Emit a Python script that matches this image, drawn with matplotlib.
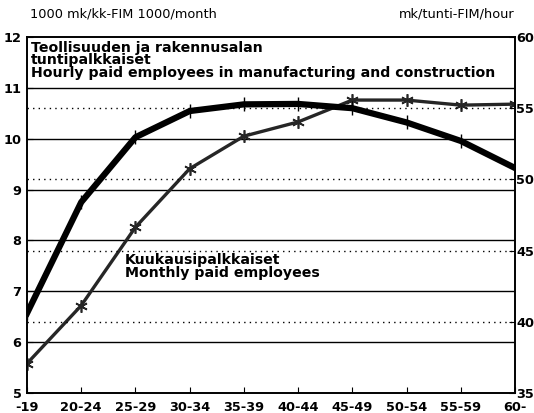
import matplotlib
matplotlib.use('agg')
import matplotlib.pyplot as plt

plt.rcParams['font.family'] = ['DejaVu Sans']

age_groups = ['-19', '20-24', '25-29', '30-34', '35-39', '40-44', '45-49', '50-54', '55-59', '60-']
# hourly paid, mk/hour (right axis)
hourly = [40.6, 48.4, 52.96, 54.8, 55.27, 55.3, 55.0, 54.0, 52.7, 50.8]
# monthly paid, 1000 mk/month (left axis)
monthly = [5.58, 6.72, 8.26, 9.41, 10.05, 10.33, 10.76, 10.76, 10.66, 10.68]

left_ticks = [5, 6, 7, 8, 9, 10, 11, 12]
right_ticks = [35, 40, 45, 50, 55, 60]

fig = plt.figure(figsize=(5.34, 4.13), dpi=100)
ax = fig.add_axes([27/534, 20/413, 488/534, 356/413])
ax2 = ax.twinx()

x = list(range(len(age_groups)))
ax.set_xlim(0, len(age_groups) - 1)
ax.set_ylim(5, 12)
ax2.set_ylim(35, 60)

for v in left_ticks[1:-1]:
    ax.axhline(v, color='black', lw=1.0, zorder=1)
for v in right_ticks[1:-1]:
    ax2.axhline(v, color='black', lw=1.0, ls=(0, (1, 3)), zorder=1)

ax.plot(x, monthly, color='0.15', lw=2.4, marker=(6, 2, 0), ms=9, mew=1.2, zorder=3)
ax2.plot(x, hourly, color='black', lw=4.5, marker='|', ms=10, mew=1.0, zorder=4)

tick_font = dict(fontsize=9.3, fontweight='bold')
ax.set_xticks(x)
ax.set_xticklabels(age_groups, **tick_font)
ax.set_yticks(left_ticks)
ax.set_yticklabels([str(t) for t in left_ticks], **tick_font)
ax2.set_yticks(right_ticks)
ax2.set_yticklabels([str(t) for t in right_ticks], **tick_font)
ax.tick_params(axis='x', direction='in', length=4, pad=6)
ax.tick_params(axis='y', direction='in', length=4, pad=4)
ax2.tick_params(axis='y', direction='in', length=4, pad=1)

for a in (ax, ax2):
    for s in a.spines.values():
        s.set_linewidth(1.2)

ax.text(0.08, 11.93, 'Teollisuuden ja rakennusalan\ntuntipalkkaiset\nHourly paid employees in manufacturing and construction',
        fontsize=10.2, fontweight='bold', va='top', ha='left', linespacing=0.9, zorder=5)
ax.text(1.81, 7.75, 'Kuukausipalkkaiset\nMonthly paid employees',
        fontsize=10.2, fontweight='bold', va='top', ha='left', linespacing=0.9, zorder=5)

fig.text(30/534, 1 - 14/413, '1000 mk/kk-FIM 1000/month', fontsize=9.3, va='center', ha='left')
fig.text(515/534, 1 - 14/413, 'mk/tunti-FIM/hour', fontsize=9.3, va='center', ha='right')

fig.savefig('out.png', dpi=100)
